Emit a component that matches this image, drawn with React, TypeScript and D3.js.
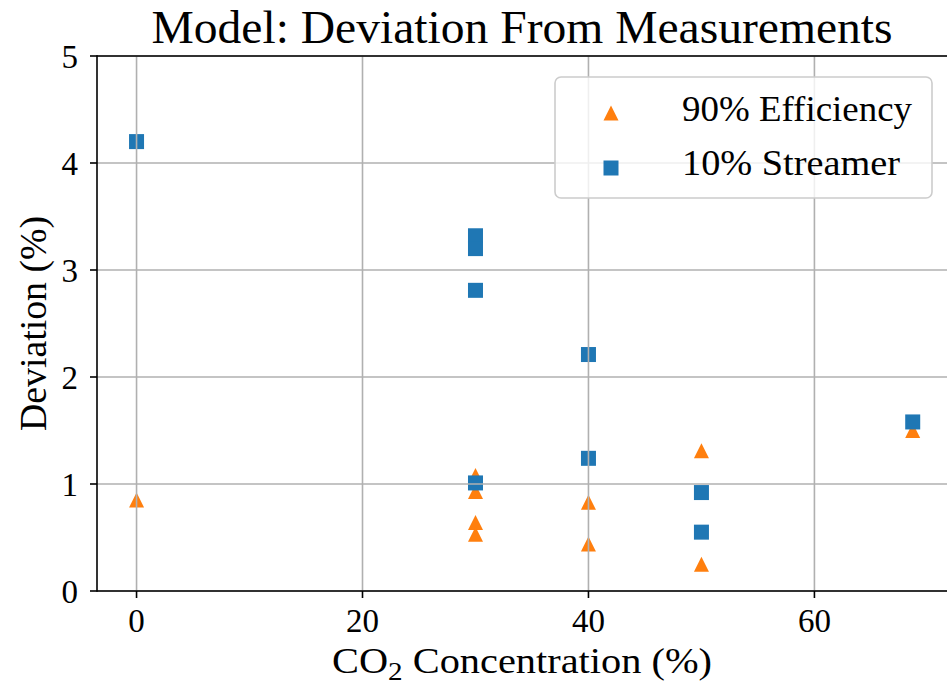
import React from "react";
import * as d3 from "d3";

// Measured deviation of the model, per CO2 concentration (%)
const efficiencyX = [0, 30, 30, 30, 30, 40, 40, 50, 50, 68.7];
const efficiencyY = [0.85, 1.08, 0.93, 0.64, 0.53, 0.83, 0.44, 1.31, 0.25, 1.5];
const streamerX = [0, 30, 30, 30, 30, 40, 40, 50, 50, 68.7];
const streamerY = [4.2, 3.32, 3.2, 2.81, 1.01, 2.21, 1.24, 0.92, 0.55, 1.58];

const xTicks = [0, 20, 40, 60];
const yTicks = [0, 1, 2, 3, 4, 5];

const seriesNames = ["90% Efficiency", "10% Streamer"];
const titleText = "Model: Deviation From Measurements";
const yLabelText = "Deviation (%)";

const W = 947;
const H = 690;
const FONT = "'Liberation Serif', 'DejaVu Serif', serif";
const ORANGE = "#ff7f0e";
const BLUE = "#1f77b4";
const GRID = "#b0b0b0";

export default function App() {
  const x = d3.scaleLinear().domain([-3.5, 72]).range([97, 950]);
  const y = d3.scaleLinear().domain([0, 5]).range([591, 56]);
  const [x0, x1] = x.range();
  const [y0, y1] = y.range();

  const M = 15; // marker size, px
  const trianglePath = (cx: number, cy: number) =>
    `M${cx},${cy - M / 2}L${cx + M / 2},${cy + M / 2}L${cx - M / 2},${cy + M / 2}Z`;

  const efficiency = efficiencyX.map((v, i) => ({ x: v, y: efficiencyY[i] }));
  const streamer = streamerX.map((v, i) => ({ x: v, y: streamerY[i] }));

  return (
    <svg
      width={W}
      height={H}
      style={{ position: "absolute", left: 0, top: 0, background: "#fff" }}
      fontFamily={FONT}
    >
      <rect x={0} y={0} width={W} height={H} fill="#fff" />

      {/* markers */}
      <g>
        {efficiency.map((d, i) => (
          <path key={"e" + i} d={trianglePath(x(d.x), y(d.y))} fill={ORANGE} />
        ))}
        {streamer.map((d, i) => (
          <rect
            key={"s" + i}
            x={x(d.x) - M / 2}
            y={y(d.y) - M / 2}
            width={M}
            height={M}
            fill={BLUE}
          />
        ))}
      </g>

      {/* grid drawn above the markers */}
      <g stroke={GRID} strokeWidth={1.6}>
        {xTicks.map((t) => (
          <line key={"gx" + t} x1={x(t)} x2={x(t)} y1={y0} y2={y1} />
        ))}
        {yTicks.map((t) => (
          <line key={"gy" + t} x1={x0} x2={x1} y1={y(t)} y2={y(t)} />
        ))}
      </g>

      {/* spines */}
      <g stroke="#000" strokeWidth={1.6} fill="none">
        <line x1={x0} x2={x0} y1={y0 + 0.8} y2={y1 - 0.8} />
        <line x1={x0} x2={x1} y1={y0} y2={y0} />
        <line x1={x0} x2={x1} y1={y1} y2={y1} />
        <line x1={x1} x2={x1} y1={y0} y2={y1} />
      </g>

      {/* ticks and tick labels */}
      <g stroke="#000" strokeWidth={1.6}>
        {xTicks.map((t) => (
          <line key={"tx" + t} x1={x(t)} x2={x(t)} y1={y0} y2={y0 + 7} />
        ))}
        {yTicks.map((t) => (
          <line key={"ty" + t} x1={x0 - 7} x2={x0} y1={y(t)} y2={y(t)} />
        ))}
      </g>
      <g fontSize={33} fill="#000">
        {xTicks.map((t) => (
          <text key={"lx" + t} x={x(t)} y={y0 + 41} textAnchor="middle">
            {t}
          </text>
        ))}
        {yTicks.map((t) => (
          <text key={"ly" + t} x={x0 - 19} y={y(t) + 11.5} textAnchor="end">
            {t}
          </text>
        ))}
      </g>

      {/* title and axis labels */}
      <text
        x={522}
        y={43}
        fontSize={46}
        textAnchor="middle"
        textLength={741}
        lengthAdjust="spacingAndGlyphs"
      >
        {titleText}
      </text>
      <text
        x={522}
        y={673}
        fontSize={36}
        textAnchor="middle"
        textLength={380}
        lengthAdjust="spacingAndGlyphs"
      >
        CO<tspan fontSize={26} dy={7}>2</tspan>
        <tspan dy={-7}> Concentration (%)</tspan>
      </text>
      <text
        transform={`translate(46,${(y0 + y1) / 2}) rotate(-90)`}
        fontSize={37}
        textAnchor="middle"
        textLength={215}
        lengthAdjust="spacingAndGlyphs"
      >
        {yLabelText}
      </text>

      {/* legend */}
      <g>
        <rect
          x={555}
          y={77}
          width={377}
          height={121}
          rx={6}
          ry={6}
          fill="#fff"
          fillOpacity={0.8}
          stroke="#cccccc"
          strokeWidth={1.6}
        />
        <path d={trianglePath(611, 113)} fill={ORANGE} />
        <rect x={611 - M / 2} y={168 - M / 2} width={M} height={M} fill={BLUE} />
        <text
          x={682}
          y={121}
          fontSize={36}
          textLength={230}
          lengthAdjust="spacingAndGlyphs"
        >
          {seriesNames[0]}
        </text>
        <text
          x={682}
          y={175}
          fontSize={36}
          textLength={218}
          lengthAdjust="spacingAndGlyphs"
        >
          {seriesNames[1]}
        </text>
      </g>
    </svg>
  );
}
